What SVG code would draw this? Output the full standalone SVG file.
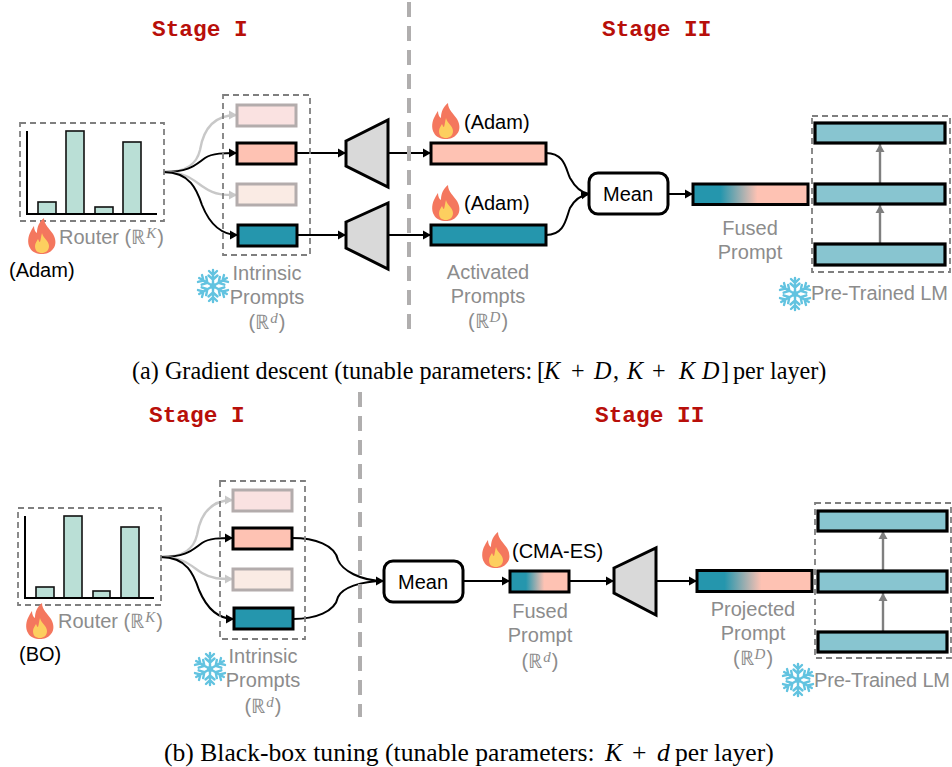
<svg xmlns="http://www.w3.org/2000/svg" xmlns:xlink="http://www.w3.org/1999/xlink" width="952" height="767" viewBox="0 0 952 767">
<style>
text{font-family:"Liberation Sans",Arial,sans-serif;font-size:20px}
.g{fill:#8c8c8c}.k{fill:#000}.m{text-anchor:middle}
.st{font-family:"Liberation Mono",monospace;font-weight:bold;font-size:22.8px;fill:#b80f0a}
.cap{font-family:"Liberation Serif",serif;font-size:24.2px;fill:#000}
.i{font-family:"Liberation Serif",serif;font-style:italic}
.sup{font-family:"Liberation Serif",serif;font-style:italic;font-size:15px}
.dash{fill:none;stroke:#7f7f7f;stroke-width:1.8;stroke-dasharray:6 4}
.div{fill:none;stroke:#b0aeae;stroke-width:4;stroke-dasharray:15 9}
.p{stroke:#000;stroke-width:3}
.f{stroke:#b3acac;stroke-width:3}
.pk{fill:#fec2b3}.pl{fill:#fae2e1;}.pc{fill:#faebe4}.te{fill:#2596ad}
.lm{fill:#88c5d0;stroke:#000;stroke-width:3.2}
.bar{fill:#badfd6;stroke:#111;stroke-width:1.6}
.ax{fill:none;stroke:#000;stroke-width:2}
.tr{fill:#d9d9d9;stroke:#000;stroke-width:3}
.mean{fill:#fff;stroke:#000;stroke-width:3}
.c{fill:none;stroke:#000;stroke-width:2;marker-end:url(#ak)}
.cn{fill:none;stroke:#000;stroke-width:2}
.cf{fill:none;stroke:#c8c8c8;stroke-width:2.4;marker-end:url(#af)}
.cg{fill:none;stroke:#7f7f7f;stroke-width:2.4;marker-end:url(#ag)}
.sf{fill:none;stroke:#62c3e0;stroke-width:2.4;stroke-linecap:round}
</style>
<defs>
<marker id="ak" markerUnits="userSpaceOnUse" markerWidth="10" markerHeight="10" refX="8" refY="5" orient="auto"><path d="M0 0.5L8 5L0 9.5Z" fill="#000"/></marker>
<marker id="af" markerUnits="userSpaceOnUse" markerWidth="10" markerHeight="10" refX="8" refY="5" orient="auto"><path d="M0 0.5L8 5L0 9.5Z" fill="#c8c8c8"/></marker>
<marker id="ag" markerUnits="userSpaceOnUse" markerWidth="10" markerHeight="10" refX="8" refY="5" orient="auto"><path d="M0 0.5L8 5L0 9.5Z" fill="#7f7f7f"/></marker>
<linearGradient id="fa" x1="0" x2="1" y1="0" y2="0"><stop offset="0.24" stop-color="#2596ad"/><stop offset="0.56" stop-color="#fec2b3"/></linearGradient>
<linearGradient id="fb" x1="0" x2="1" y1="0" y2="0"><stop offset="0.27" stop-color="#2596ad"/><stop offset="0.58" stop-color="#fec2b3"/></linearGradient>
<g id="flame">
<path d="M16 0C16 7 22 11 25 16C28 21 28.500 27 25 31C22 35 18 36 14 36C9 36 4 34 2 30C-1 25 0 18 3 13C4 11 5 9 6 8C6 11 7 14 9 15C9 9 11 4 16 0Z" fill="#f4775e"/>
<path d="M14 15C15 20 21 23 21 28C21 33 17 35 14 35C10 35 7 33 7 28C7 25 9 23 10 21C11 23 11 24 12 24C13 21 13 18 14 15Z" fill="#fdcf5f"/>
</g>
<g id="arm"><path d="M0 0V-16M0 -6.500L-4.500 -10.500M0 -6.500L4.500 -10.500M0 -11L-4 -15M0 -11L4 -15"/></g>
<g id="snow" class="sf">
<use href="#arm"/><use href="#arm" transform="rotate(60)"/><use href="#arm" transform="rotate(120)"/><use href="#arm" transform="rotate(180)"/><use href="#arm" transform="rotate(240)"/><use href="#arm" transform="rotate(300)"/>
<circle r="3" fill="#62c3e0" stroke="none"/>
</g>
</defs>
<rect width="952" height="767" fill="#fff"/>

<g id="connectors">
<path class="cf" d="M164 172C188 172 197 163 200 150C204 125 218 115 237 115"/>
<path class="c" d="M164 172C190 172 195 165 205 158C212 153 225 153 237 153"/>
<path class="cf" d="M164 172C188 172 195 182 205 188C215 195 225 195 237 195"/>
<path class="c" d="M164 172C190 172 197 190 202 205C210 225 222 235 238 235"/>
<path class="c" d="M296 153H346"/>
<path class="c" d="M297 235H346"/>
<path class="c" d="M388 153H431"/>
<path class="c" d="M388 235H431"/>
<path class="cn" d="M546 153C565 153 566 170 570 178C575 187 582 193 589 194"/>
<path class="c" d="M546 235C565 235 566 218 570 208C575 199 582 195 589 194"/>
<path class="c" d="M668 194H693"/>
<path class="cg" d="M880 183V144"/>
<path class="cg" d="M880 244V205"/>

<path class="cf" d="M161 557C185 557 194 548 197 535C201 510 215 500 233 500"/>
<path class="c" d="M161 557C187 557 192 550 202 543C209 538 220 538 233 538"/>
<path class="cf" d="M161 557C185 557 192 567 202 573C212 579 220 579 233 579"/>
<path class="c" d="M161 557C187 557 194 575 199 590C207 609 218 619 234 619"/>
<path class="cn" d="M292 538C315 538 335 545 338 560C342 570 360 581 384 581"/>
<path class="c" d="M293 619C315 619 335 612 338 597C342 588 360 581 384 581"/>
<path class="c" d="M463 581L510 581"/>
<path class="c" d="M569 581L614 581"/>
<path class="c" d="M655 581L697 581"/>
<path class="cg" d="M883 571V531"/>
<path class="cg" d="M883 631V593"/>
</g>

<path id="divider-a" class="div" d="M409 2V335"/>
<path id="divider-b" class="div" d="M360 392V717"/>

<text class="st" x="152" y="36">Stage I</text>
<text class="st" x="602" y="36">Stage II</text>
<text class="st" x="149" y="422">Stage I</text>
<text class="st" x="595" y="422">Stage II</text>

<g id="router-a">
<rect class="dash" x="20" y="123" width="144" height="98"/>
<rect class="bar" x="38" y="202" width="18" height="12"/>
<rect class="bar" x="66" y="131" width="18" height="83"/>
<rect class="bar" x="95" y="207" width="18" height="7"/>
<rect class="bar" x="123" y="142" width="18" height="72"/>
<path class="ax" d="M27 131V214H157"/>
<use href="#flame" x="28" y="218"/>
<text class="g" x="59" y="244">Router (ℝ<tspan class="sup" dx="1" dy="-6">K</tspan><tspan dx="1" dy="6">)</tspan></text>
<text class="k" x="9" y="277">(Adam)</text>
</g>

<g id="intrinsic-a">
<rect class="dash" x="223" y="95" width="87" height="160"/>
<rect class="pl f" x="237" y="105" width="59" height="21"/>
<rect class="pk p" x="237" y="143" width="59" height="21"/>
<rect class="pc f" x="237" y="184" width="59" height="21"/>
<rect class="te p" x="238" y="225" width="59" height="21"/>
<use href="#snow" x="213" y="286"/>
<text class="g m" x="267" y="280">Intrinsic</text>
<text class="g m" x="267" y="304">Prompts</text>
<text class="g m" x="267" y="329">(ℝ<tspan class="sup" dx="1" dy="-6">d</tspan><tspan dx="1" dy="6">)</tspan></text>
</g>

<g id="projector-a1"><path class="tr" d="M346 141L388 120V187L346 166Z"/></g>
<g id="projector-a2"><path class="tr" d="M346 222L388 203V269L346 248Z"/></g>

<g id="activated-a">
<use href="#flame" x="432" y="103"/>
<text class="k" x="464" y="129">(Adam)</text>
<rect class="pk p" x="431" y="143" width="115" height="21"/>
<use href="#flame" x="432" y="185"/>
<text class="k" x="464" y="210">(Adam)</text>
<rect class="te p" x="431" y="225" width="115" height="20"/>
<text class="g m" x="488" y="279">Activated</text>
<text class="g m" x="488" y="303">Prompts</text>
<text class="g m" x="488" y="328">(ℝ<tspan class="sup" dx="1" dy="-6">D</tspan><tspan dx="1" dy="6">)</tspan></text>
</g>

<g id="mean-a">
<rect class="mean" x="589" y="173" width="79" height="41" rx="9"/>
<text class="k m" x="628" y="201">Mean</text>
</g>

<g id="fused-a">
<rect x="693" y="184" width="115" height="20.500" fill="url(#fa)" class="p"/>
<text class="g m" x="750" y="235">Fused</text>
<text class="g m" x="750" y="259">Prompt</text>
</g>

<g id="lm-a">
<rect class="dash" x="812" y="116" width="138" height="156"/>
<rect class="lm" x="815" y="123" width="130" height="20"/>
<rect class="lm" x="815" y="184" width="130" height="20"/>
<rect class="lm" x="815" y="244" width="130" height="21"/>
<use href="#snow" x="795" y="294"/>
<text class="g" x="811" y="300" textLength="137">Pre-Trained LM</text>
</g>

<text class="cap" x="132" y="379">(a) Gradient descent (tunable parameters:<tspan x="537">[</tspan><tspan class="i" x="544">K</tspan><tspan x="571">+</tspan><tspan class="i" x="594">D</tspan><tspan x="613">,</tspan><tspan class="i" x="627">K</tspan><tspan x="652">+</tspan><tspan class="i" x="679">K</tspan><tspan class="i" x="702">D</tspan><tspan x="721">]</tspan><tspan x="733">per layer)</tspan></text>

<g id="router-b">
<rect class="dash" x="18" y="508" width="143" height="97"/>
<rect class="bar" x="36" y="587" width="18" height="11"/>
<rect class="bar" x="64" y="516" width="18" height="82"/>
<rect class="bar" x="93" y="591" width="17" height="7"/>
<rect class="bar" x="121" y="527" width="18" height="71"/>
<path class="ax" d="M25 516V598H154"/>
<use href="#flame" x="26" y="603"/>
<text class="g" x="58" y="628">Router (ℝ<tspan class="sup" dx="1" dy="-6">K</tspan><tspan dx="1" dy="6">)</tspan></text>
<text class="k" x="19" y="661">(BO)</text>
</g>

<g id="intrinsic-b">
<rect class="dash" x="220" y="481" width="85" height="158"/>
<rect class="pl f" x="233" y="490" width="59" height="21"/>
<rect class="pk p" x="233" y="528" width="59" height="21"/>
<rect class="pc f" x="233" y="569" width="59" height="21"/>
<rect class="te p" x="234" y="608" width="59" height="21"/>
<use href="#snow" x="210" y="669"/>
<text class="g m" x="263" y="663">Intrinsic</text>
<text class="g m" x="263" y="687">Prompts</text>
<text class="g m" x="263" y="713">(ℝ<tspan class="sup" dx="1" dy="-6">d</tspan><tspan dx="1" dy="6">)</tspan></text>
</g>

<g id="mean-b">
<rect class="mean" x="384" y="561" width="79" height="41" rx="9"/>
<text class="k m" x="423" y="589">Mean</text>
</g>

<g id="fused-b">
<use href="#flame" x="482" y="532"/>
<text class="k" x="512" y="558">(CMA-ES)</text>
<rect x="510" y="571" width="59" height="21" fill="url(#fb)" class="p"/>
<text class="g m" x="540" y="618">Fused</text>
<text class="g m" x="540" y="642">Prompt</text>
<text class="g m" x="540" y="668">(ℝ<tspan class="sup" dx="1" dy="-6">d</tspan><tspan dx="1" dy="6">)</tspan></text>
</g>

<g id="projector-b"><path class="tr" d="M614 568L656 548V615L614 593Z"/></g>

<g id="projected-b">
<rect x="697" y="570.500" width="115" height="21" fill="url(#fa)" class="p"/>
<text class="g m" x="753" y="616">Projected</text>
<text class="g m" x="753" y="640">Prompt</text>
<text class="g m" x="753" y="665">(ℝ<tspan class="sup" dx="1" dy="-6">D</tspan><tspan dx="1" dy="6">)</tspan></text>
</g>

<g id="lm-b">
<rect class="dash" x="815" y="503" width="136" height="155"/>
<rect class="lm" x="818" y="511" width="129" height="20"/>
<rect class="lm" x="818" y="571" width="129" height="21"/>
<rect class="lm" x="818" y="632" width="129" height="20"/>
<use href="#snow" x="798" y="680"/>
<text class="g" x="814" y="687" textLength="136">Pre-Trained LM</text>
</g>

<text class="cap" x="164" y="761" style="font-size:25.600px">(b) Black-box tuning (tunable parameters:<tspan class="i" x="605">K</tspan><tspan x="632">+</tspan><tspan class="i" x="657">d</tspan><tspan x="675">per layer)</tspan></text>
</svg>
